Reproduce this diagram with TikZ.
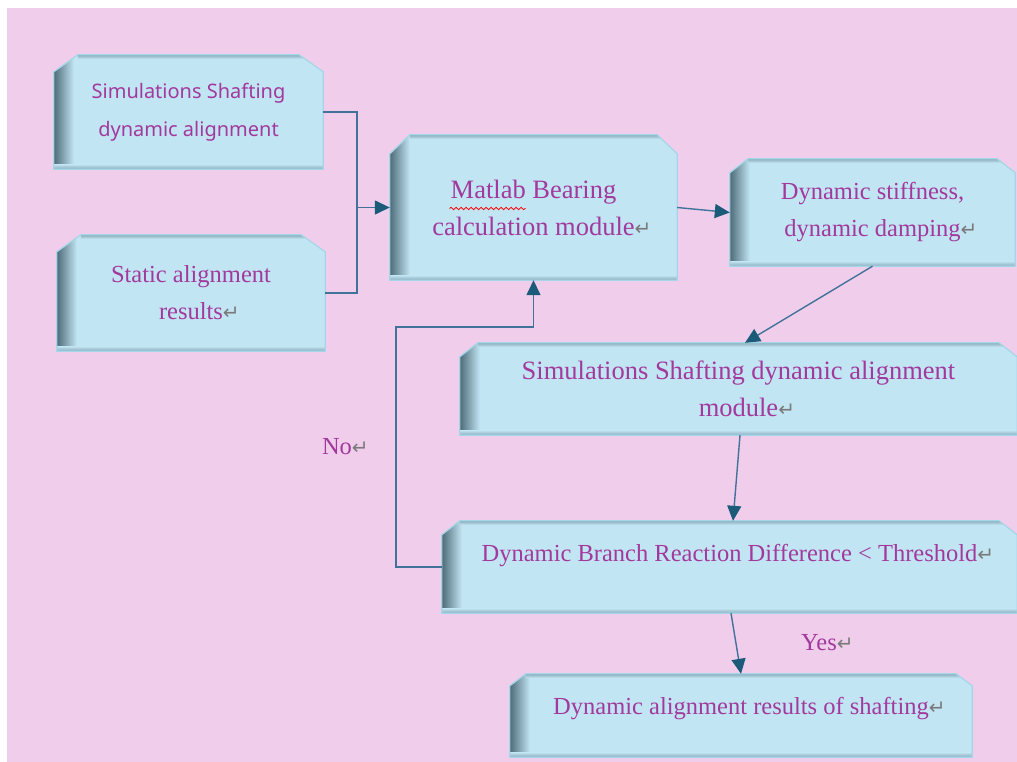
\documentclass[tikz,border=0pt]{standalone}
\usepackage{fontspec}
\setmainfont{Liberation Serif}
\newfontfamily\boxsans{Noto Sans}
\newfontfamily\symfont{DejaVu Sans}
\usetikzlibrary{arrows.meta,decorations.pathmorphing}
\definecolor{bgpink}{HTML}{F1CDEC}
\definecolor{boxfill}{HTML}{C2E5F3}
\definecolor{boxline}{HTML}{A3D6E8}
\definecolor{shadowdark}{HTML}{4E6B78}
\definecolor{shadowmid}{HTML}{8AAAB8}
\definecolor{txtc}{HTML}{A2399C}
\definecolor{retgray}{HTML}{7A7A7A}
\definecolor{linec}{HTML}{41739A}
\definecolor{headc}{HTML}{1B5A78}
\pgfdeclarelayer{back}
\pgfdeclarelayer{bg}
\pgfsetlayers{back,bg,main}
\newcommand\ret{\rlap{\fontsize{20}{20}\symfont\color{retgray}↵}}
\newcommand\chpath[3]{(#1.south west) -- ([yshift=-#3pt]#1.north west) -- ([xshift=#2pt]#1.north west) -- ([xshift=-#2pt]#1.north east) -- ([yshift=-#3pt]#1.north east) -- (#1.south east) -- cycle}
\newcommand\chbox[3]{%
  \begin{pgfonlayer}{bg}
    \fill[boxfill] \chpath{#1}{#2}{#3};
    \begin{scope}
      \clip \chpath{#1}{#2}{#3};
      \shade[left color=shadowdark, right color=boxfill] (#1.south west) rectangle ([xshift=20pt]#1.north west);
      \shade[top color=boxfill, bottom color=shadowmid] ([yshift=5pt]#1.south west) rectangle (#1.south east);
      \shade[top color=shadowmid, bottom color=boxfill] ([xshift=#2pt]#1.north west) rectangle ([yshift=-4pt]#1.north east);
    \end{scope}
    \draw[boxline, line width=1.2pt] \chpath{#1}{#2}{#3};
  \end{pgfonlayer}}
\tikzset{
  boxnode/.style={rectangle, inner sep=0pt, align=center, text=txtc,
    font=\fontsize{24.5}{37}\selectfont},
  bigtext/.style={font=\fontsize{26.5}{37}\selectfont},
  lbl/.style={inner sep=0pt, text=txtc, font=\fontsize{24.5}{30}\selectfont},
  conn/.style={draw=linec, line width=1.4pt},
  arr/.style={conn, -{Triangle[length=15pt,width=14pt,color=headc]}}
}
\begin{document}
\begin{tikzpicture}[x=1pt,y=-1pt]
\useasboundingbox (0,0) rectangle (1017,762);
\begin{pgfonlayer}{back}
\fill[white] (0,0) rectangle (1017,762);
\fill[bgpink] (7,8) rectangle (1017,762);
\end{pgfonlayer}

\node[boxnode, minimum width=269pt, minimum height=114pt,
  font=\boxsans\fontsize{20}{38}\selectfont] (A) at (188.5,112)
  {Simulations Shafting\\dynamic alignment};
\node[boxnode, minimum width=268pt, minimum height=116pt] (B) at (191,293)
  {Static alignment\\results\ret};
\node[boxnode, bigtext, minimum width=287pt, minimum height=145pt] (C) at (533.5,207.5)
  {Matlab Bearing\\calculation module\ret};
\node[boxnode, minimum width=285pt, minimum height=107pt] (D) at (872.5,212.5)
  {Dynamic stiffness,\\dynamic damping\ret};
\node[boxnode, bigtext, minimum width=557pt, minimum height=92pt] (E) at (738.5,389)
  {Simulations Shafting dynamic alignment\\module\ret};
\node[boxnode, minimum width=575pt, minimum height=92pt, text depth=28pt] (F) at (729.5,567)
  {Dynamic Branch Reaction Difference < Threshold\ret};
\node[boxnode, minimum width=462pt, minimum height=83pt, text depth=19pt] (G) at (741,715.5)
  {Dynamic alignment results of shafting\ret};

\chbox{A}{24}{17}
\chbox{B}{24}{17}
\chbox{C}{20}{19}
\chbox{D}{18}{14}
\chbox{E}{18}{14}
\chbox{F}{18}{14}
\chbox{G}{16}{12}

\draw[red, line width=0.8pt, decorate, decoration={snake, amplitude=1.2pt, segment length=5pt}]
  ([xshift=-84pt,yshift=-1pt]C.center) -- ([xshift=-8pt,yshift=-1pt]C.center);

\coordinate (J) at (357,207.5);
\coordinate (K) at (396,327);
\draw[conn] (A.east) -| (J);
\draw[conn] (B.east) -| (J);
\draw[arr] (J) -- (J -| C.west);
\draw[arr] (C.east) -- (D.west);
\draw[arr] (D.south) -- ([xshift=6.5pt]E.north);
\draw[arr] ([xshift=1.5pt]E.south) -- ([xshift=3.5pt]F.north);
\draw[arr] ([xshift=1.5pt]F.south) -- (G.north);
\draw[arr] (F.west) -- (F.west -| K) -- (K) -- (K -| C.south) -- (C.south);

\node[lbl] (no) at (337,447) {No\ret};
\node[lbl] (yes) at (819,643) {Yes\ret};
\end{tikzpicture}
\end{document}
